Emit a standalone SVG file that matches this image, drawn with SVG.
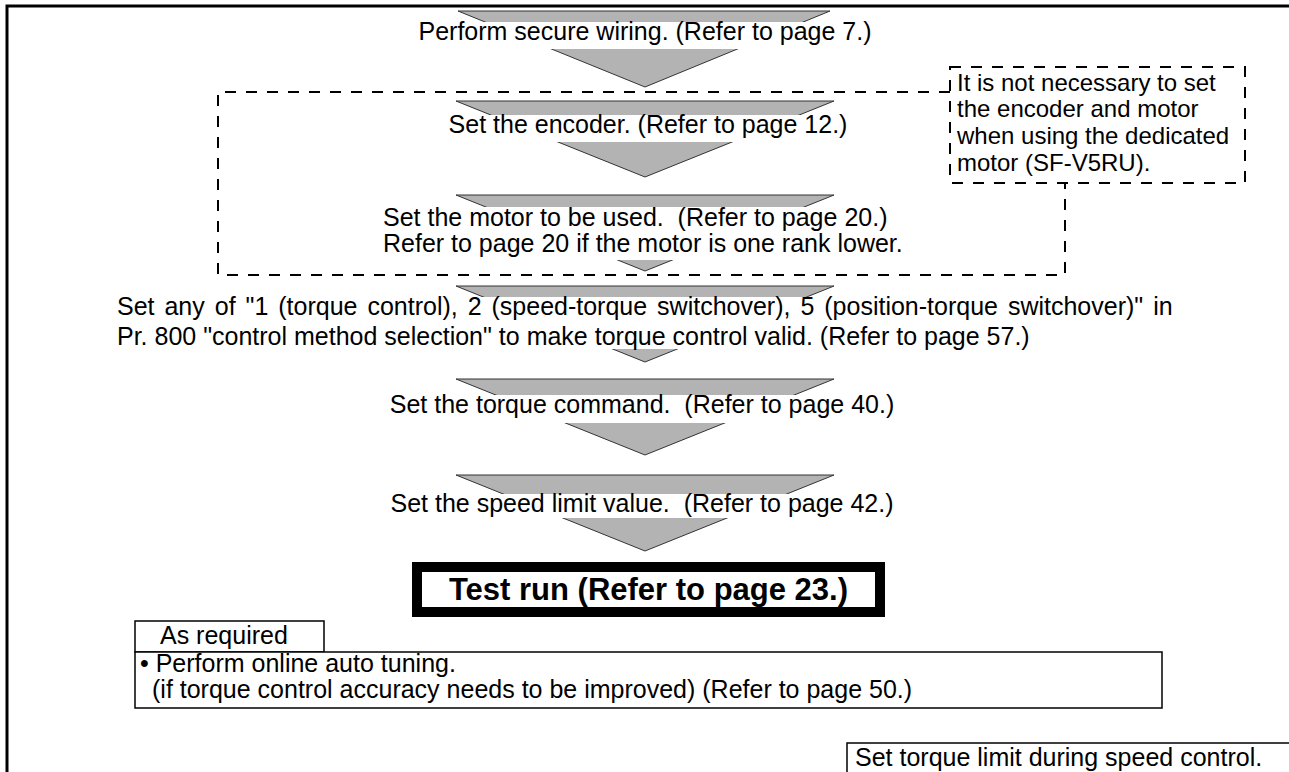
<svg xmlns="http://www.w3.org/2000/svg" width="1289" height="772" viewBox="0 0 1289 772">
<style>
text{font-family:"Liberation Sans",Arial,sans-serif;font-size:25px;fill:#000}
.c{text-anchor:middle}
.n{font-size:24px}
.arrow{fill:#b3b3b3;stroke:#333;stroke-width:1}
.band{fill:#fff}
.dash{fill:none;stroke:#000;stroke-width:2;stroke-dasharray:11 10}
.box{fill:#fff;stroke:#000;stroke-width:1.5}
.bold{font-weight:bold;font-size:31px}
</style>
<rect width="1289" height="772" fill="#fff"/>
<path d="M7,772V6H1289" fill="none" stroke="#000" stroke-width="3"/>
<g id="connectors">
<polygon class="arrow" points="458,11 830,11 645,87"/>
<polygon class="arrow" points="456,101 834,101 645,177"/>
<polygon class="arrow" points="456,195 834,195 645,271"/>
<polygon class="arrow" points="456,286 834,286 645,362"/>
<polygon class="arrow" points="456,379 834,379 645,455"/>
<polygon class="arrow" points="456,475 834,475 645,551"/>
</g>
<g id="group-optional">
<path class="dash" d="M950,92H218V275H1065V183"/>
</g>
<g id="note">
<rect class="dash" x="950" y="67" width="295" height="116"/>
<text class="n" x="957" y="91">It is not necessary to set</text>
<text class="n" x="957" y="117">the encoder and motor</text>
<text class="n" x="957" y="144">when using the dedicated</text>
<text class="n" x="957" y="171">motor (SF-V5RU).</text>
</g>
<g id="step1">
<rect class="band" x="400" y="22" width="500" height="27"/>
<text class="c" x="645" y="40">Perform secure wiring. (Refer to page 7.)</text>
</g>
<g id="step2">
<rect class="band" x="400" y="115" width="500" height="27"/>
<text class="c" x="648" y="133">Set the encoder. (Refer to page 12.)</text>
</g>
<g id="step3">
<rect class="band" x="370" y="207" width="560" height="53"/>
<text x="383" y="226" xml:space="preserve">Set the motor to be used.  (Refer to page 20.)</text>
<text x="383" y="252">Refer to page 20 if the motor is one rank lower.</text>
</g>
<g id="step4">
<rect class="band" x="100" y="297" width="1100" height="52"/>
<text x="117" y="315" word-spacing="3">Set any of "1 (torque control), 2 (speed-torque switchover), 5 (position-torque switchover)" in</text>
<text x="117" y="345">Pr. 800 "control method selection" to make torque control valid. (Refer to page 57.)</text>
</g>
<g id="step5">
<rect class="band" x="380" y="395" width="540" height="28"/>
<text class="c" x="642" y="413" xml:space="preserve">Set the torque command.  (Refer to page 40.)</text>
</g>
<g id="step6">
<rect class="band" x="380" y="494" width="540" height="24"/>
<text class="c" x="642" y="512" xml:space="preserve">Set the speed limit value.  (Refer to page 42.)</text>
</g>
<g id="test-run">
<rect x="417" y="567" width="463" height="45" fill="#fff" stroke="#000" stroke-width="10"/>
<text class="c bold" x="648.5" y="600">Test run (Refer to page 23.)</text>
</g>
<g id="as-required">
<rect class="box" x="135" y="621" width="189" height="31"/>
<text x="160" y="644">As required</text>
</g>
<g id="tuning">
<rect class="box" x="135" y="652" width="1027" height="56"/>
<text x="140" y="672">• Perform online auto tuning.</text>
<text x="152" y="698">(if torque control accuracy needs to be improved) (Refer to page 50.)</text>
</g>
<g id="torque-limit">
<path d="M847,772V743H1289" fill="#fff" stroke="#000" stroke-width="1.5"/>
<text x="855" y="766">Set torque limit during speed control.</text>
</g>
</svg>
